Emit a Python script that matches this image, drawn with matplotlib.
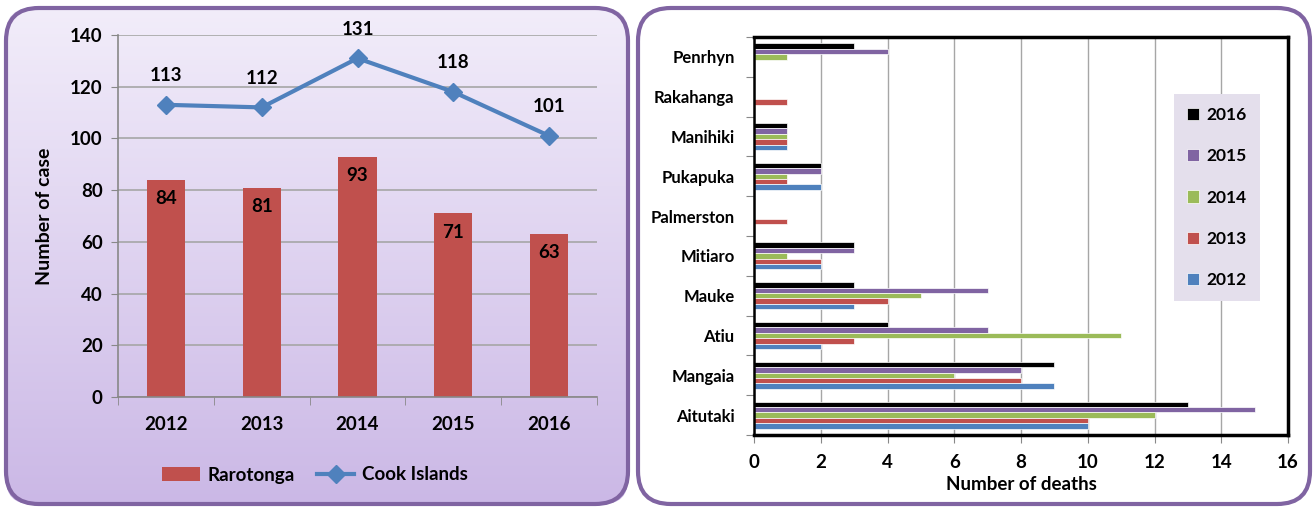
import matplotlib
matplotlib.use("Agg")
import matplotlib.pyplot as plt
import numpy as np
from matplotlib.patches import FancyBboxPatch, Patch
from matplotlib.lines import Line2D

plt.rcParams['font.family'] = ['Lato', 'DejaVu Sans']
plt.rcParams['font.weight'] = 'bold'

# ---------------- data ----------------
years = ['2012', '2013', '2014', '2015', '2016']
rarotonga = [84, 81, 93, 71, 63]
cook_islands = [113, 112, 131, 118, 101]

islands = ['Aitutaki', 'Mangaia', 'Atiu', 'Mauke', 'Mitiaro',
           'Palmerston', 'Pukapuka', 'Manihiki', 'Rakahanga', 'Penrhyn']
deaths_2012 = [10, 9, 2, 3, 2, 0, 2, 1, 0, 0]
deaths_2013 = [10, 8, 3, 4, 2, 1, 1, 1, 1, 0]
deaths_2014 = [12, 6, 11, 5, 1, 0, 1, 1, 0, 1]
deaths_2015 = [15, 8, 7, 7, 3, 0, 2, 1, 0, 4]
deaths_2016 = [13, 9, 4, 3, 3, 0, 2, 1, 0, 3]

W, H = 1315, 508
fig = plt.figure(figsize=(W / 100, H / 100), dpi=100)
fig.patch.set_facecolor('white')

def fx(px):
    return px / W

def fy(py):
    return 1 - py / H

# ---------------- left panel background (gradient rounded box) ----------------
lx0, ly0, lx1, ly1 = 6, 8, 628, 504
bg = fig.add_axes([fx(lx0), fy(ly1), fx(lx1 - lx0), (ly1 - ly0) / H], zorder=0)
bg.set_axis_off()
top_c = np.array([242, 237, 250]) / 255
bot_c = np.array([203, 184, 230]) / 255
t = np.linspace(0, 1, 256)[:, None]
grad = (top_c[None, :] * (1 - t) + bot_c[None, :] * t)[:, None, :]
im = bg.imshow(grad, aspect='auto', extent=[0, 1, 0, 1], origin='upper')
bg.set_xlim(0, 1)
bg.set_ylim(0, 1)
clip = FancyBboxPatch((0.0, 0.0), 1, 1, boxstyle="round,pad=0,rounding_size=0.04",
                      transform=bg.transAxes, facecolor='none', edgecolor='none',
                      mutation_aspect=(lx1 - lx0) / (ly1 - ly0))
bg.add_patch(clip)
im.set_clip_path(clip)

border_l = FancyBboxPatch((fx(lx0), fy(ly1)), fx(lx1 - lx0), (ly1 - ly0) / H,
                          boxstyle="round,pad=0,rounding_size=0.025",
                          transform=fig.transFigure, facecolor='none',
                          edgecolor='#8064A2', linewidth=3,
                          mutation_aspect=W / H, zorder=5)
fig.patches.append(border_l)

rx0, ry0, rx1, ry1 = 638, 8, 1310, 504
border_r = FancyBboxPatch((fx(rx0), fy(ry1)), fx(rx1 - rx0), (ry1 - ry0) / H,
                          boxstyle="round,pad=0,rounding_size=0.025",
                          transform=fig.transFigure, facecolor='white',
                          edgecolor='#8064A2', linewidth=3,
                          mutation_aspect=W / H, zorder=0)
fig.patches.append(border_r)

# ---------------- left chart ----------------
FS = 13.5
ax1 = fig.add_axes([fx(118), fy(397), fx(597 - 118), (397 - 35) / H], zorder=2)
ax1.patch.set_alpha(0)
x = np.arange(len(years))
bar_c = '#C0504D'
line_c = '#4F81BD'
ax1.bar(x, rarotonga, width=0.4, color=bar_c, zorder=2, label='Rarotonga')
ax1.plot(x, cook_islands, color=line_c, lw=3, marker='D', markersize=9,
         zorder=3, label='Cook Islands')
for xi, v in zip(x, rarotonga):
    ax1.text(xi, v - 4, str(v), ha='center', va='top', fontsize=FS, fontweight='bold', zorder=4)
for xi, v in zip(x, cook_islands):
    ax1.text(xi, v + 8, str(v), ha='center', va='bottom', fontsize=FS, fontweight='bold', zorder=4)
ax1.set_xlim(-0.5, len(years) - 0.5)
ax1.set_ylim(0, 140)
ax1.set_yticks(np.arange(0, 141, 20))
ax1.set_xticks(x)
ax1.set_xticklabels(years)
ax1.set_xticks(np.arange(-0.5, len(years), 1), minor=True)
ax1.tick_params(axis='x', which='major', length=0, pad=14, labelsize=FS)
ax1.tick_params(axis='x', which='minor', length=6, color='#888888', direction='out')
ax1.tick_params(axis='y', length=5, color='#888888', labelsize=FS, pad=6)
ax1.grid(axis='y', color='#A6A6A6', lw=1.2, zorder=0)
ax1.set_axisbelow(True)
for s in ['top', 'right']:
    ax1.spines[s].set_visible(False)
for s in ['left', 'bottom']:
    ax1.spines[s].set_color('#888888')
    ax1.spines[s].set_linewidth(1.2)
ax1.set_ylabel('Number of case', fontsize=14, fontweight='bold', labelpad=12)
handles = [Patch(facecolor=bar_c, label='Rarotonga'),
           Line2D([0], [0], color=line_c, lw=3, marker='D', markersize=9, label='Cook Islands')]
fig.legend(handles=handles, loc='center', bbox_to_anchor=(fx(315), fy(475)), ncol=2,
           frameon=False, handlelength=2.0, columnspacing=1.2, handletextpad=0.4,
           prop={'weight': 'bold', 'size': 13.5})

# ---------------- right chart ----------------
ax2 = fig.add_axes([fx(754), fy(435), fx(1288 - 754), (435 - 37) / H], zorder=2)
yy = np.arange(len(islands))
bh = 0.136
series = [('2016', deaths_2016, '#000000', 2),
          ('2015', deaths_2015, '#8064A2', 1),
          ('2014', deaths_2014, '#9BBB59', 0),
          ('2013', deaths_2013, '#C0504D', -1),
          ('2012', deaths_2012, '#4F81BD', -2)]
for lab, vals, col, off in series:
    ax2.barh(yy + off * bh, vals, height=bh, color=col, edgecolor='white',
             linewidth=0.5, label=lab, zorder=2)
ax2.set_ylim(-0.5, len(islands) - 0.5)
ax2.set_xlim(0, 16)
ax2.set_xticks(np.arange(0, 17, 2))
ax2.grid(axis='x', color='#A6A6A6', lw=1.0, zorder=0)
ax2.set_axisbelow(True)
ax2.set_yticks(np.arange(-0.5, len(islands), 1))
ax2.set_yticklabels([])
ax2.set_yticks(yy, minor=True)
ax2.set_yticklabels(islands, minor=True)
ax2.tick_params(axis='y', which='major', length=6, color='#888888')
ax2.tick_params(axis='y', which='minor', length=0, pad=14, labelsize=12)
ax2.tick_params(axis='x', length=6, color='#888888', labelsize=13.5, pad=8)
for s in ['top', 'right', 'bottom']:
    ax2.spines[s].set_color('black')
    ax2.spines[s].set_linewidth(2.5)
ax2.spines['left'].set_color('black')
ax2.spines['left'].set_linewidth(1.8)
ax2.set_xlabel('Number of deaths', fontsize=13.5, fontweight='bold', labelpad=3)
leg = ax2.legend(loc='center', bbox_to_anchor=((1217 - 754) / (1288 - 754), (435 - 197.5) / 398),
                 frameon=True, handlelength=0.7, handleheight=0.7,
                 labelspacing=1.45, borderpad=0.75, handletextpad=0.45, borderaxespad=0,
                 prop={'weight': 'bold', 'size': 12.5})
leg.get_frame().set_facecolor('#E4DFEC')
leg.get_frame().set_edgecolor('none')
leg.get_frame().set_alpha(1)
leg.get_frame().set_boxstyle('square', pad=0)

fig.savefig('out.png', dpi=100)
